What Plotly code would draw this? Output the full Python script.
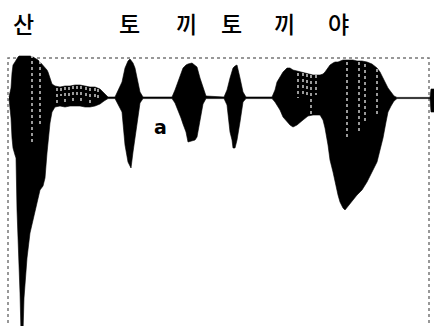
import plotly.graph_objects as go

# Waveform envelope of the utterance "산토끼 토끼야" (baseline = 0, positive up)
t = [9, 11, 12, 13, 15, 16, 17, 18, 19, 20, 21, 23, 24, 25, 27, 30, 33, 35, 38, 40, 43, 45,
     47, 48, 50, 52, 55,
     60, 65, 70, 75, 80, 85, 90, 95, 100, 104, 108,
     115, 118, 122, 125, 128, 130, 131, 133, 135, 137, 140, 143,
     172, 175, 178, 181, 183, 186, 188, 192, 195, 197, 200, 203, 206,
     224, 227, 230, 232, 233, 235, 237, 240, 243, 246,
     272, 275, 277, 280, 283, 287, 290, 293, 297, 303, 308, 313, 320, 323, 325, 328, 330,
     333, 335, 338, 340, 343, 345, 348, 350, 353, 357, 362, 367, 372, 377, 380, 383, 386,
     388, 391, 394, 397, 430, 431, 434]
upper = [1, 10, 25, 33, 36, 38, 39, 41, 42, 42, 42, 42, 42, 42, 42, 42, 41, 40, 38, 36, 33, 31,
         28, 26, 20, 14, 12,
         11, 12, 12, 13, 13, 12, 11, 11, 9, 5, 1,
         1, 8, 16, 30, 37, 39, 38, 35, 30, 20, 6, 1,
         1, 8, 16, 26, 30, 33, 34, 35, 33, 31, 20, 10, 2,
         1, 8, 20, 28, 30, 32, 33, 20, 6, 1,
         1, 8, 16, 21, 26, 30, 30, 28, 27, 25, 24, 23, 23, 24, 26, 31, 33,
         35, 36, 36, 37, 38, 38, 38, 38, 38, 37, 37, 36, 34, 30, 26, 20, 14,
         10, 6, 2, 0.6, 0.6, 9, 9]
lower = [-1, -20, -40, -50, -57, -60, -112, -135, -165, -195, -235, -235, -200, -185, -160, -135, -122, -112, -100, -92, -88, -80,
         -55, -42, -25, -14, -9,
         -8, -9, -8, -8, -8, -9, -9, -8, -6, -3, -0.6,
         -0.6, -7, -14, -47, -64, -68, -70, -54, -40, -24, -5, -0.6,
         -0.6, -5, -12, -20, -26, -34, -44, -43, -42, -39, -24, -6, -0.6,
         -0.6, -7, -34, -42, -50, -50, -42, -24, -4, -0.6,
         -0.6, -4, -7, -12, -19, -24, -27, -29, -27, -22, -18, -17, -17, -22, -30, -47, -62,
         -74, -84, -97, -104, -110, -112, -108, -105, -102, -97, -92, -84, -74, -64, -52, -40, -24,
         -14, -8, -3, -0.6, -0.6, -14, -14]

# Light gaps between glottal pulses: position, top, bottom
pulse_x = [32, 40, 57, 61, 65, 69, 73, 77, 81, 86, 90, 95, 98,
           298, 303, 307, 311, 316, 347, 359, 365, 377]
pulse_top = [43, 37, 10, 10, 11, 11, 12, 12, 12, 11, 10, 10, 9,
             25, 25, 24, 23, 23, 36, 36, 34, 29]
pulse_bottom = [-45, -29, -5, 2, -6, 2, -5, 1, -6, 2, -5, 1, -3,
                0, 3, 0, -16, 3, -39, -34, -25, -19]

syllables = ["산", "토", "끼", "토", "끼", "야"]
syllable_x = [23, 129, 186, 231, 284, 338]
vowel_label = "a"
vowel_x, vowel_y = 160, -29

fig = go.Figure()
fig.add_trace(go.Scatter(x=t, y=lower, mode="lines", line=dict(color="black", width=0.6),
                         hoverinfo="skip", showlegend=False))
fig.add_trace(go.Scatter(x=t, y=upper, mode="lines", line=dict(color="black", width=0.6),
                         fill="tonexty", fillcolor="black", hoverinfo="skip", showlegend=False))

px, py = [], []
for x, a, b in zip(pulse_x, pulse_top, pulse_bottom):
    px += [x, x, None]
    py += [a, b, None]
fig.add_trace(go.Scatter(x=px, y=py, mode="lines", line=dict(color="white", width=1.2, dash="dot"),
                         hoverinfo="skip", showlegend=False))

# Dotted display frame
fig.add_shape(type="rect", x0=8, x1=429, y0=-260, y1=40,
              line=dict(color="#777777", width=1.5, dash="dot"), layer="below")

for s, x in zip(syllables, syllable_x):
    fig.add_annotation(x=x, y=75, text=s, showarrow=False, xref="x", yref="y",
                       font=dict(family="Noto Sans CJK KR", size=23, color="black", weight=500))
fig.add_annotation(x=vowel_x, y=vowel_y, text=vowel_label, showarrow=False,
                   font=dict(family="DejaVu Sans", size=19, color="black", weight=700))

fig.update_layout(width=434, height=326, margin=dict(l=0, r=0, t=0, b=0),
                  paper_bgcolor="white", plot_bgcolor="white",
                  xaxis=dict(range=[0, 434], visible=False, fixedrange=True),
                  yaxis=dict(range=[-228, 98], visible=False, fixedrange=True))
fig.write_html("out.html")
